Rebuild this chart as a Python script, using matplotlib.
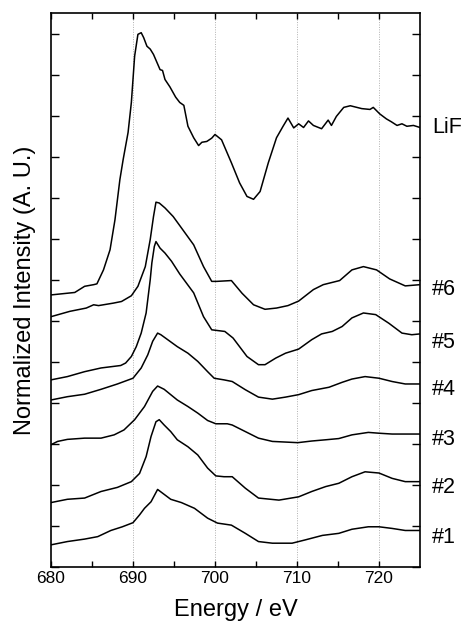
import matplotlib
matplotlib.use("Agg")
import matplotlib.pyplot as plt
from matplotlib.transforms import blended_transform_factory

plt.rcParams['font.family'] = ['Liberation Sans', 'DejaVu Sans']

# ---------------- data ----------------
labels = ["LiF", "#6", "#5", "#4", "#3", "#2", "#1"]
label_y = [10.71, 6.76, 5.46, 4.32, 3.10, 1.93, 0.71]

lif_e = [680, 682.9, 684.1, 685.2, 685.6, 686.4, 687.2, 687.8, 688.4, 688.8, 689.4, 689.8,
         690.2, 690.6, 691.0, 691.3, 691.7, 692.1, 692.5, 693.3, 693.6, 693.9, 694.5, 695.2,
         695.7, 696.2, 696.7, 697.4, 698.0, 698.4, 699.0, 699.6, 700.0, 700.8, 702.0, 703.0,
         703.9, 704.7, 705.5, 706.5, 707.5, 708.3, 708.9, 709.6, 710.2, 710.8, 711.4, 712.0,
         713.0, 713.8, 714.2, 714.8, 715.7, 716.5, 717.1, 717.9, 718.9, 719.3, 720.1, 720.9,
         721.5, 722.2, 722.8, 723.4, 724.2, 725]
lif_i = [6.63, 6.69, 6.84, 6.88, 6.90, 7.24, 7.73, 8.46, 9.44, 9.93, 10.59, 11.32,
         12.45, 12.98, 13.02, 12.90, 12.69, 12.62, 12.49, 12.12, 12.10, 11.88, 11.70, 11.45,
         11.32, 11.25, 10.74, 10.46, 10.27, 10.35, 10.37, 10.45, 10.54, 10.41, 9.85, 9.36,
         9.03, 8.96, 9.15, 9.85, 10.46, 10.74, 10.94, 10.70, 10.80, 10.71, 10.87, 10.76,
         10.68, 10.89, 10.76, 10.98, 11.20, 11.24, 11.21, 11.17, 11.15, 11.20, 11.04, 10.92,
         10.85, 10.76, 10.80, 10.74, 10.76, 10.71]

s6_e = [680, 682.3, 684.3, 685.2, 685.8, 687.6, 688.6, 689.8, 690.6, 691.5, 692.1,
        692.5, 692.8, 693.2, 693.9, 694.9, 695.7, 697.4, 698.6, 699.6, 700.2, 702.0,
        703.3, 704.7, 706.1, 707.5, 708.9, 710.2, 712.0, 713.2, 715.2, 716.7, 718.1,
        719.7, 721.3, 723.2, 725]
s6_i = [6.10, 6.23, 6.31, 6.39, 6.37, 6.43, 6.47, 6.61, 6.84, 7.32, 7.98,
        8.54, 8.89, 8.87, 8.75, 8.54, 8.32, 7.85, 7.32, 6.96, 6.96, 6.98,
        6.67, 6.39, 6.28, 6.31, 6.37, 6.48, 6.76, 6.88, 6.98, 7.24, 7.32,
        7.24, 7.02, 6.85, 6.88]

s5_e = [680, 682.0, 684.1, 686.1, 688.5, 689.1, 689.8, 690.4, 691.0, 691.6, 692.1,
        692.3, 692.6, 692.8, 693.3, 693.9, 694.7, 695.7, 697.4, 698.6, 699.6, 701.2,
        702.2, 703.9, 705.3, 706.1, 707.4, 708.6, 710.2, 711.8, 713.0, 714.3, 715.5,
        716.7, 718.1, 719.6, 721.2, 722.8, 724.0, 725]
s5_i = [4.56, 4.64, 4.76, 4.85, 4.91, 4.97, 5.13, 5.37, 5.70, 6.19, 7.00,
        7.41, 7.81, 7.93, 7.77, 7.65, 7.45, 7.14, 6.68, 6.10, 5.78, 5.74,
        5.58, 5.13, 4.93, 4.93, 5.09, 5.21, 5.31, 5.54, 5.68, 5.74, 5.86,
        6.07, 6.19, 6.15, 5.94, 5.70, 5.66, 5.68]

s4_e = [680, 682.0, 684.1, 686.1, 688.1, 690.0, 691.0, 691.8, 692.4, 693.0, 693.4,
        695.4, 696.7, 697.9, 699.1, 699.9, 701.1, 702.1, 703.7, 705.3, 707.0, 708.6,
        710.2, 711.8, 713.9, 715.5, 716.7, 718.3, 720.0, 721.6, 723.2, 725]
s4_i = [4.07, 4.15, 4.21, 4.33, 4.46, 4.60, 4.85, 5.17, 5.50, 5.70, 5.66,
        5.37, 5.21, 5.01, 4.76, 4.60, 4.56, 4.52, 4.32, 4.14, 4.09, 4.14,
        4.20, 4.30, 4.38, 4.50, 4.58, 4.64, 4.60, 4.52, 4.46, 4.46]

s3_e = [680, 680.8, 682.0, 684.1, 686.1, 687.7, 688.9, 690.2, 691.4, 692.4, 693.0,
        693.8, 695.4, 696.7, 697.9, 699.1, 700.1, 701.5, 702.1, 703.7, 705.3, 707.0,
        710.1, 711.8, 713.5, 715.1, 716.7, 718.7, 720.0, 721.6, 725]
s3_i = [2.98, 3.06, 3.11, 3.14, 3.14, 3.22, 3.34, 3.59, 3.91, 4.28, 4.41,
        4.33, 4.07, 3.91, 3.75, 3.57, 3.49, 3.49, 3.46, 3.30, 3.14, 3.06,
        3.03, 3.07, 3.10, 3.13, 3.22, 3.28, 3.26, 3.24, 3.24]

s2_e = [680, 682.0, 684.1, 686.1, 688.1, 689.8, 690.8, 691.6, 692.2, 692.8, 693.2,
        693.8, 694.6, 695.4, 696.7, 697.9, 699.1, 700.1, 701.1, 702.1, 703.7, 705.3,
        707.8, 710.2, 711.8, 713.5, 715.1, 716.7, 718.3, 720.0, 721.6, 723.2, 725]
s2_i = [1.57, 1.65, 1.68, 1.84, 1.94, 2.08, 2.28, 2.69, 3.18, 3.54, 3.59,
        3.46, 3.30, 3.10, 2.93, 2.73, 2.41, 2.22, 2.20, 2.20, 1.92, 1.68,
        1.63, 1.71, 1.84, 1.96, 2.04, 2.20, 2.32, 2.29, 2.16, 2.08, 2.08]

s1_e = [680, 682.0, 684.1, 685.7, 687.3, 688.7, 690.0, 690.8, 691.4, 692.2, 693.0,
        693.6, 694.6, 695.9, 697.5, 699.1, 700.3, 702.0, 703.7, 705.3, 707.0, 709.4,
        711.0, 713.1, 715.1, 716.7, 718.7, 720.0, 721.6, 723.2, 725]
s1_i = [0.54, 0.62, 0.68, 0.74, 0.89, 0.98, 1.08, 1.27, 1.43, 1.59, 1.89,
        1.80, 1.65, 1.57, 1.43, 1.19, 1.07, 1.02, 0.82, 0.62, 0.58, 0.58,
        0.66, 0.77, 0.82, 0.92, 0.98, 0.98, 0.94, 0.89, 0.89]

x_ticks = [680, 690, 700, 710, 720]
x_grid = [690, 700, 710, 720]

# ---------------- plot ----------------
fig = plt.figure(figsize=(4.63, 6.30), dpi=100)
ax = fig.add_axes([51/463, 1 - 567/630, (420 - 51)/463, (567 - 13)/630])

series = [(lif_e, lif_i), (s6_e, s6_i), (s5_e, s5_i), (s4_e, s4_i),
          (s3_e, s3_i), (s2_e, s2_i), (s1_e, s1_i)]
for e, i in series:
    ax.plot(e, i, color='black', lw=1.1, solid_joinstyle='round')

for g in x_grid:
    ax.axvline(g, color='#b0b0b0', lw=0.7, ls=(0, (1, 1.5)), zorder=0)

ax.set_xlim(680, 725)
ax.set_ylim(0, 13.5)
ax.set_xticks(x_ticks)
ax.set_xticks([685, 695, 705, 715], minor=True)
ax.set_yticks(range(0, 14))
ax.set_yticklabels([])
ax.tick_params(axis='x', which='both', direction='in', top=True, bottom=True,
               length=4, width=1.0, labelsize=12.5, pad=3)
ax.tick_params(axis='y', which='both', direction='in', left=True, right=True,
               length=6, width=1.0)
for sp in ax.spines.values():
    sp.set_linewidth(1.2)

ax.set_xlabel("Energy / eV", fontsize=17, labelpad=9)
ax.set_ylabel("Normalized Intensity (A. U.)", fontsize=17, labelpad=7)

trans = blended_transform_factory(ax.transAxes, ax.transData)
for lab, yv in zip(labels, label_y):
    ax.text(1.033, yv, lab, transform=trans, fontsize=15.5, va='center', ha='left')

fig.savefig("out.png", dpi=100)
